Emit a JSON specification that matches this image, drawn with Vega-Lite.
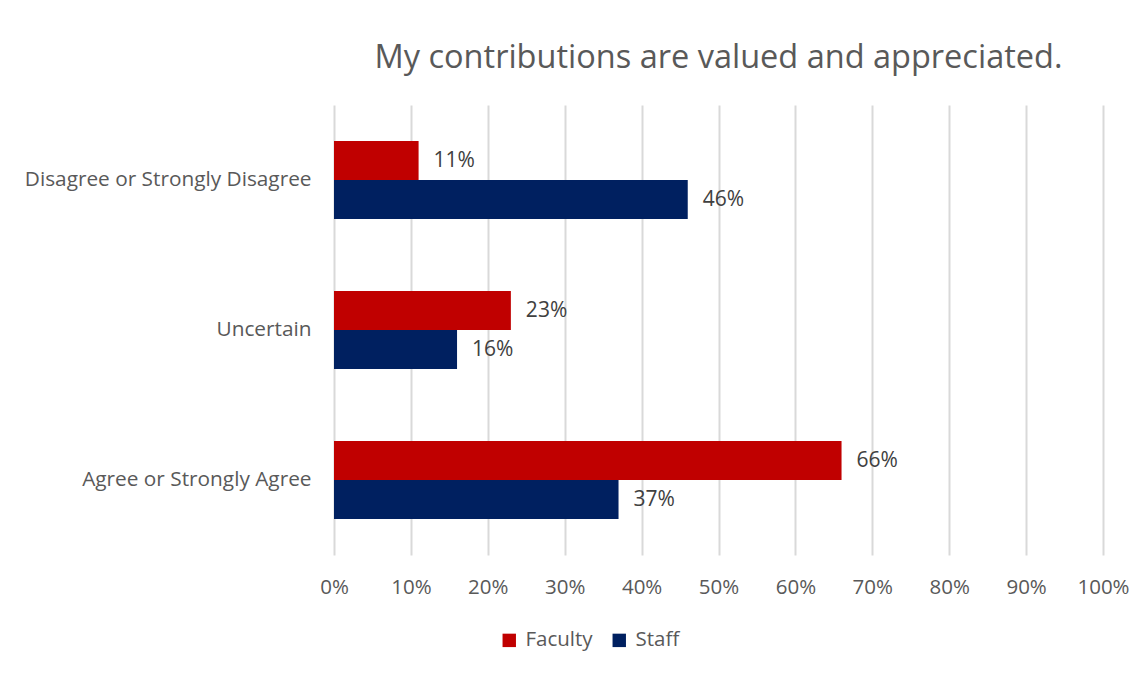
{
  "$schema": "https://vega.github.io/schema/vega-lite/v6.json",
  "width": 769,
  "height": 450,
  "autosize": {"type": "none"},
  "padding": {"left": 334, "top": 105, "right": 45, "bottom": 118},
  "background": "white",
  "title": {
    "text": "My contributions are valued and appreciated.",
    "fontSize": 32.5,
    "font": "Open Sans",
    "fontWeight": "normal",
    "color": "#595959",
    "anchor": "middle",
    "frame": "group",
    "baseline": "alphabetic",
    "offset": 5
  },
  "data": {
    "values": [
      {"category": "Disagree or Strongly Disagree", "group": "Faculty", "value": 0.11},
      {"category": "Disagree or Strongly Disagree", "group": "Staff", "value": 0.46},
      {"category": "Uncertain", "group": "Faculty", "value": 0.23},
      {"category": "Uncertain", "group": "Staff", "value": 0.16},
      {"category": "Agree or Strongly Agree", "group": "Faculty", "value": 0.66},
      {"category": "Agree or Strongly Agree", "group": "Staff", "value": 0.37}
    ]
  },
  "encoding": {
    "y": {
      "field": "category",
      "type": "nominal",
      "sort": ["Disagree or Strongly Disagree", "Uncertain", "Agree or Strongly Agree"],
      "scale": {"paddingInner": 0.48, "paddingOuter": 0.24},
      "axis": {
        "title": null,
        "domain": false,
        "ticks": false,
        "labelFontSize": 20.8,
        "labelFont": "Open Sans",
        "labelColor": "#595959",
        "labelPadding": 23,
        "labelLimit": 400
      }
    },
    "yOffset": {
      "field": "group",
      "type": "nominal",
      "sort": ["Faculty", "Staff"],
      "scale": {"paddingInner": 0, "paddingOuter": 0}
    },
    "x": {
      "field": "value",
      "type": "quantitative",
      "scale": {"domain": [0, 1], "nice": false},
      "axis": {
        "title": null,
        "format": ".0%",
        "values": [0, 0.1, 0.2, 0.3, 0.4, 0.5, 0.6, 0.7, 0.8, 0.9, 1],
        "domain": false,
        "ticks": false,
        "grid": true,
        "gridColor": "#d9d9d9",
        "gridWidth": 2,
        "labelFontSize": 20.5,
        "labelFont": "Open Sans",
        "labelColor": "#595959",
        "labelPadding": 22,
        "labelFlush": false,
        "labelOverlap": false
      }
    }
  },
  "layer": [
    {
      "mark": {"type": "bar"},
      "encoding": {
        "color": {
          "field": "group",
          "type": "nominal",
          "scale": {"domain": ["Faculty", "Staff"], "range": ["#C00000", "#002060"]},
          "legend": {
            "title": null,
            "orient": "none",
            "direction": "horizontal",
            "legendX": 165,
            "legendY": 525,
            "symbolType": "square",
            "symbolSize": 180,
            "symbolStrokeWidth": 0,
            "labelFontSize": 20.5,
            "labelFont": "Open Sans",
            "labelColor": "#595959",
            "labelOffset": 6,
            "columnPadding": 16
          }
        }
      }
    },
    {
      "mark": {
        "type": "text",
        "align": "left",
        "baseline": "middle",
        "dx": 15,
        "fontSize": 21,
        "font": "Open Sans",
        "color": "#404040"
      },
      "encoding": {
        "text": {"field": "value", "type": "quantitative", "format": ".0%"}
      }
    }
  ],
  "config": {
    "view": {"stroke": null}
  }
}
